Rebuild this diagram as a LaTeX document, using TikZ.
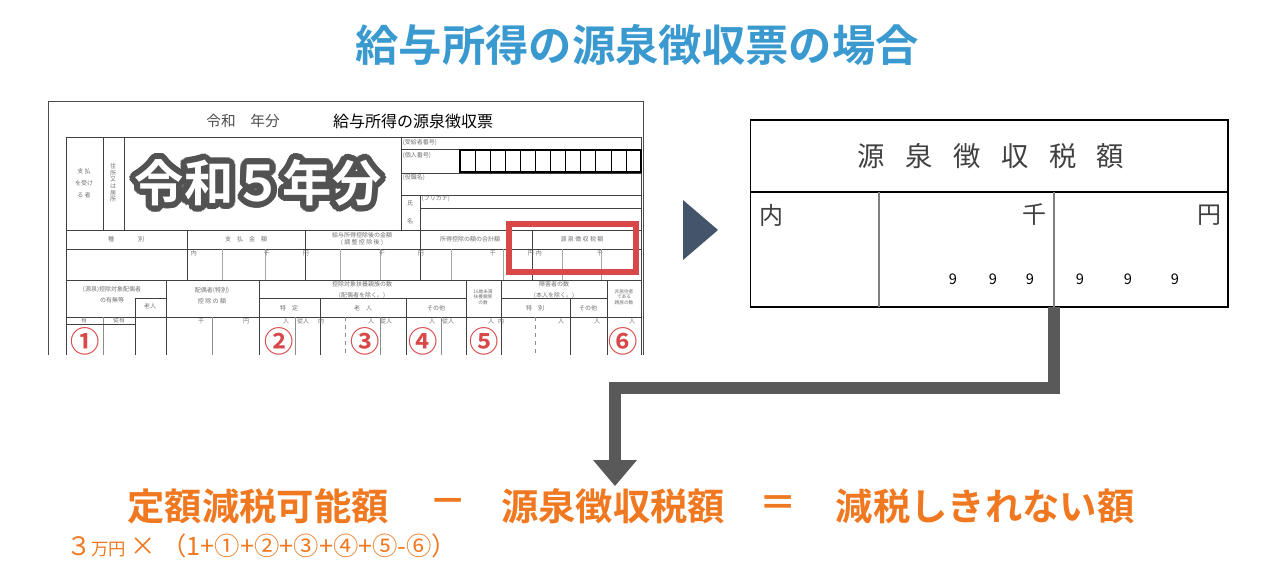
\documentclass[tikz,border=0pt]{standalone}
\usepackage{fontspec}
\setmainfont{Noto Sans CJK JP}
\newfontfamily\jpb{Noto Sans CJK JP Bold}
\usetikzlibrary{calc}
\definecolor{ttl}{HTML}{3A9AD0}
\definecolor{org}{HTML}{F07820}
\definecolor{redc}{HTML}{D94848}
\definecolor{chev}{HTML}{44546A}
\definecolor{conn}{HTML}{595959}
\definecolor{fg}{HTML}{707070}
\begin{document}
\begin{tikzpicture}[x=0.75pt,y=-0.75pt,
  fl/.style={draw=black!75,line width=0.5pt},
  ft/.style={font=\fontsize{4.5}{5}\selectfont,text=fg,inner sep=0.5pt},
  circ/.style={font=\jpb\fontsize{22}{22}\selectfont,text=redc,inner sep=0pt},
  big/.style={font=\jpb\fontsize{28}{28}\selectfont,text=org,inner sep=0pt},
  yr/.style={font=\jpb\fontsize{37}{37}\selectfont,inner sep=0pt},
  tbl/.style={draw=black,line width=1.6pt},
  nine/.style={font=\fontsize{11}{11}\selectfont,inner sep=0pt}]
\useasboundingbox (0,0) rectangle (1280,586);
% title
\node[font=\jpb\fontsize{32.5}{33}\selectfont,text=ttl] (title) at (637,45) {給与所得の源泉徴収票の場合};
% form outline
\draw[black!70,line width=0.6pt] (48,355) -- (48,101) -- (643,101) -- (643,355);
\node[font=\fontsize{11}{11}\selectfont,text=black!70] (ftitle1) at (243,121) {令和\quad 年分};
\node[font=\fontsize{12}{12}\selectfont] (ftitle2) at (413,121) {給与所得の源泉徴収票};
% table grid
\draw[fl] (66,137) -- (641,137);
\draw[fl] (66,137) -- (66,355);
\draw[fl] (641,137) -- (641,355);
\foreach \x in {103,124,401} \draw[fl] (\x,137) -- (\x,230);
\draw[fl] (401,149) -- (641,149);
\draw[fl] (401,173) -- (641,173);
\draw[fl] (401,195) -- (641,195);
\draw[fl] (420,208) -- (641,208);
\draw[fl] (420,195) -- (420,230);
\draw[line width=1.1pt] (460,150) rectangle (641,172);
\foreach \i in {1,...,11} \draw[line width=0.5pt] ({460+\i*181/12},150) -- ({460+\i*181/12},172);
\foreach \i in {4,8} \draw[line width=1.1pt] ({460+\i*181/12},150) -- ({460+\i*181/12},172);
\draw[fl] (66,230) -- (641,230);
\draw[fl] (66,249) -- (641,249);
\draw[fl] (66,280) -- (641,280);
\foreach \x in {187,305,420,532} \draw[fl] (\x,230) -- (\x,280);
\foreach \x in {222,265,340,380,451,503,562,601} \draw[black!35,line width=0.4pt] (\x,249) -- (\x,280);
% row3
\foreach \x in {166,259,466,501,607} \draw[fl] (\x,280) -- (\x,355);
\draw[fl] (259,298) -- (466,298);
\draw[fl] (501,298) -- (607,298);
\draw[fl] (135,298) -- (166,298);
\draw[fl] (135,298) -- (135,355);
\foreach \x in {320,406,570} \draw[fl] (\x,298) -- (\x,355);
\draw[fl] (66,317) -- (641,317);
\foreach \x in {103,212,295,380,441} \draw[black!45,line width=0.4pt] (\x,317) -- (\x,355);
\foreach \x in {345,535} \draw[black!45,line width=0.4pt,dashed] (\x,317) -- (\x,355);
\draw[fl] (66,324) -- (135,324);
% form small texts
\node[ft,align=center] (t1) at (84,183) {支\ 払\\[4pt]を受け\\[4pt]る\ 者};
\node[ft,align=center] (t2) at (113,183) {住\\所\\又\\は\\居\\所};
\node[ft,anchor=west] (t3) at (402,143) {(受給者番号)};
\node[ft,anchor=west] (t4) at (402,156) {(個人番号)};
\node[ft,anchor=west] (t5) at (402,178) {(役職名)};
\node[ft,anchor=west] (t6) at (421,199) {(フリガナ)};
\node[ft] (t7) at (410,203) {氏};
\node[ft] (t8) at (410,221) {名};
\node[ft] (t9) at (126,239) {種\qquad\qquad 別};
\node[ft] (t10) at (246,239) {支\quad 払\quad 金\quad 額};
\node[ft,align=center] (t11) at (362,239) {給与所得控除後の金額\\(\ 調\ 整\ 控\ 除\ 後\ )};
\node[ft] (t12) at (470,239) {所得控除の額の合計額};
\node[ft] (t13) at (582,239) {源\ 泉\ 徴\ 収\ 税\ 額};
\foreach \x/\s in {190/内,263/千,302/円,378/千,417/円,489/千,527/円,535/内,596/千} \node[ft,anchor=north west] at (\x,250) {\s};
\node[ft,align=center] (t14) at (112,295) {(源泉)控除対象配偶者\\[3pt]の有無等};
\node[ft] (t15) at (150,306) {老人};
\node[ft,align=center] (t16) at (212,296) {配偶者(特別)\\[3pt]控\ 除\ の\ 額};
\node[ft,align=center] (t17) at (362,290) {控除対象扶養親族の数\\[3pt](配偶者を除く。)};
\node[ft] (t18) at (289,308) {特\quad 定};
\node[ft] (t19) at (363,308) {老\quad 人};
\node[ft] (t20) at (436,308) {その他};
\node[ft,align=center,font=\fontsize{3.5}{4}\selectfont] (t21) at (483,297) {16歳未満\\扶養親族\\の数};
\node[ft,align=center] (t22) at (554,290) {障害者の数\\[3pt](本人を除く。)};
\node[ft] (t23) at (535,308) {特\quad 別};
\node[ft] (t24) at (588,308) {その他};
\node[ft,align=center,font=\fontsize{3.5}{4}\selectfont] (t25) at (624,297) {非居住者\\である\\親族の数};
\node[ft] (t26) at (84,320) {有};
\node[ft] (t27) at (119,320) {従有};
\foreach \x/\s in {205/千,250/円,290/人,310/従人,325/内,375/人,393/従人,436/人,455/従人,495/人,505/内,565/人,601/人,636/人} \node[ft,anchor=north east] at (\x,318) {\s};
% circled numbers
\node[circ] (c1) at (85,341) {①};
\node[circ] (c2) at (279,341) {②};
\node[circ] (c3) at (365,341) {③};
\node[circ] (c4) at (423,341) {④};
\node[circ] (c5) at (484,341) {⑤};
\node[circ] (c6) at (623,341) {⑥};
% red box
\draw[redc,line width=5pt] (509,224) rectangle (636,272);
% big overlay with outline
\foreach \a in {0,15,...,345} \node[yr,text=black!68] at ($(258,183)+(\a:4.5pt)$) {令和５年分};
\foreach \a in {0,30,...,330} \node[yr,text=black!68] at ($(258,183)+(\a:2.2pt)$) {令和５年分};
\node[yr,text=white] (year) at (258,183) {令和５年分};
% chevron
\fill[chev] (683,200) -- (718,230) -- (683,260) -- cycle;
% right table
\draw[black,line width=0.6pt] (750,120) rectangle (1228,307);
\draw[tbl] (750,120) -- (1228,120) -- (1228,307);
\draw[tbl] (750,307) -- (1228,307);
\draw[tbl] (750,192) -- (1228,192);
\draw[black!50,line width=0.8pt] (879,192) -- (879,307);
\draw[black!50,line width=0.8pt] (1054,192) -- (1054,307);
\node[font=\fontsize{20.5}{21}\selectfont,text=black!75] (rh) at (991,156) {源\hspace{0.75em}泉\hspace{0.75em}徴\hspace{0.75em}収\hspace{0.75em}税\hspace{0.75em}額};
\node[font=\fontsize{18}{18}\selectfont,text=black!75] (rn) at (771,215) {内};
\node[font=\fontsize{18}{18}\selectfont,text=black!75] (rs) at (1034,215) {千};
\node[font=\fontsize{18}{18}\selectfont,text=black!75] (ry) at (1209,215) {円};
\foreach \x in {953,993,1030,1080,1128,1175} \node[nine] at (\x,279) {9};
% connector
\coordinate (cstart) at (1054,307);
\coordinate (ctip) at (615,486);
\draw[conn,line width=9pt] (cstart) -- (1054,388) -- (615,388) -- (615,462);
\fill[conn] (593,460) -- (637,460) -- (ctip) -- cycle;
% formula
\node[big] (f1) at (258,506) {定額減税可能額};
\node[big] (f2) at (448,506) {－};
\node[big] (f3) at (613,506) {源泉徴収税額};
\node[big] (f4) at (778,506) {＝};
\node[big] (f5) at (985,506) {減税しきれない額};
\node[text=org,anchor=west,inner sep=0pt,font=\fontsize{19}{19}\selectfont] (f6) at (66,546) {３{\fontsize{13}{13}\selectfont 万円}\,×\ （1+①+②+③+④+⑤-⑥）};
\end{tikzpicture}
\end{document}
